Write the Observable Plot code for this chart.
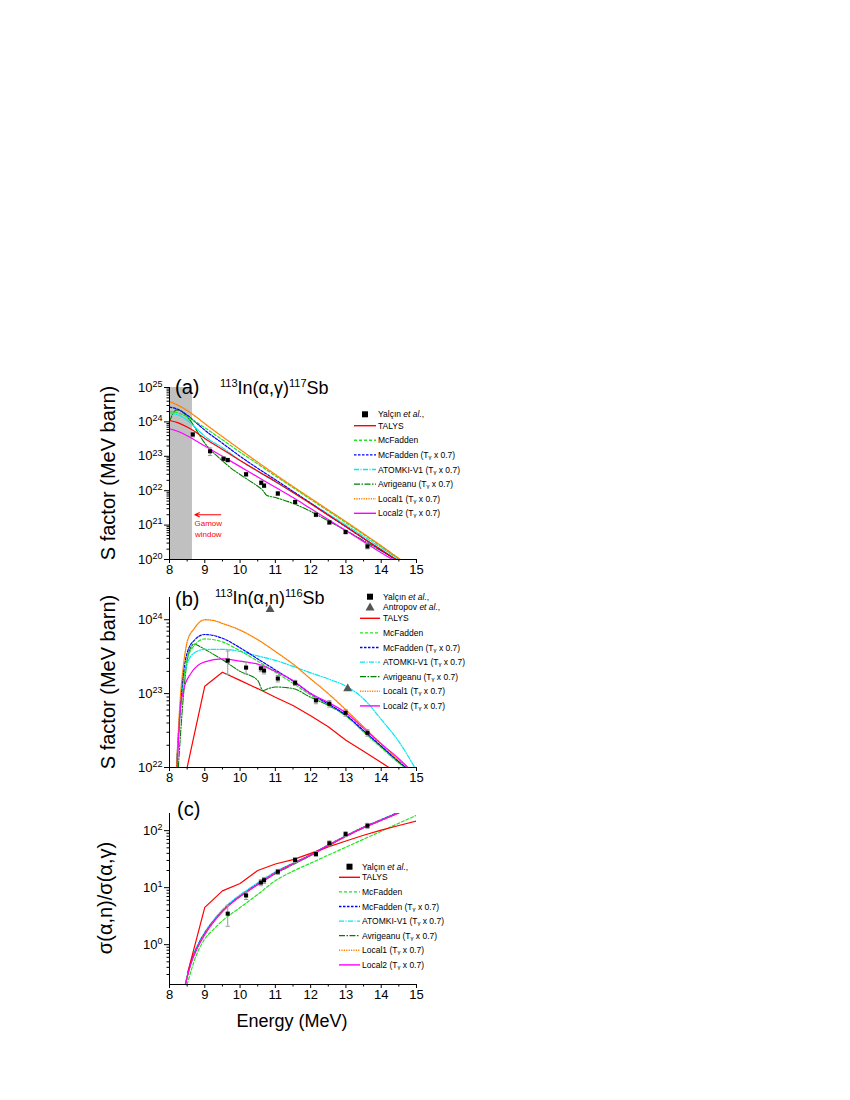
<!DOCTYPE html>
<html><head><meta charset="utf-8">
<script src="https://cdn.jsdelivr.net/npm/d3@7"></script>
<script src="https://cdn.jsdelivr.net/npm/@observablehq/plot@0.6"></script>
<style>
html,body{margin:0;padding:0;background:#fff;}
#page{position:relative;width:850px;height:1100px;overflow:hidden;font-family:"Liberation Sans",Arial,sans-serif;}
.panel{position:absolute;left:0;}
#overlay{position:absolute;left:0;top:0;}
</style></head><body><div id="page"></div>
<script>
// ================= DATA =================
const energyTicks = [8, 9, 10, 11, 12, 13, 14, 15];
const energyMinor = [8.5, 9.5, 10.5, 11.5, 12.5, 13.5, 14.5];
const gamowWindow = [8, 8.65];
const gamowArrow = {from: 9.45, to: 8.72, y: 2.0e21};
const gamowLabel = [{x: 9.1, y: 1.1e21, text: "Gamow"}, {x: 9.1, y: 5.5e20, text: "window"}];

// ---- panel (a): 113In(a,g)117Sb, S factor ----
const eA = [8, 8.25, 8.5, 8.75, 9, 9.5, 10, 10.5, 11, 11.5, 12, 12.5, 13, 13.5, 14, 14.5, 14.75];
const aLocal1 = [3.89e24, 3.02e24, 2.14e24, 1.41e24, 8.91e23, 3.72e23, 1.58e23, 6.76e22, 2.95e22, 1.32e22, 6.03e21, 2.75e21, 1.26e21, 5.62e20, 2.51e20, 1.07e20, 7.08e19];
const aMcF = [2.0e24, 1.82e24, 1.41e24, 1.0e24, 6.76e23, 3.02e23, 1.32e23, 6.03e22, 2.69e22, 1.23e22, 5.62e21, 2.57e21, 1.17e21, 5.37e20, 2.4e20, 1.05e20, 6.92e19];
const aMcF7 = [2.69e24, 2.29e24, 1.58e24, 9.55e23, 5.75e23, 2.4e23, 1.0e23, 4.47e22, 2.09e22, 9.55e21, 4.37e21, 1.95e21, 8.91e20, 4.07e20, 1.86e20, 8.51e19, 5.62e19];
const aAtomki = [1.78e24, 1.58e24, 1.12e24, 6.61e23, 3.8e23, 1.78e23, 7.59e22, 3.63e22, 1.82e22, 8.91e21, 4.37e21, 2.09e21, 1.0e21, 4.68e20, 2.19e20, 1.0e20, 6.61e19];
const aTalys = [1.1e24, 9.33e23, 7.08e23, 5.01e23, 3.31e23, 1.58e23, 7.59e22, 3.72e22, 1.86e22, 8.91e21, 4.17e21, 1.95e21, 9.12e20, 4.17e20, 1.91e20, 8.91e19, 6.03e19];
const aLocal2 = [6.31e23, 5.25e23, 3.98e23, 2.82e23, 2.0e23, 1.0e23, 5.01e22, 2.51e22, 1.26e22, 6.31e21, 3.02e21, 1.45e21, 6.92e20, 3.31e20, 1.58e20, 7.59e19, 5.01e19];
const eAvrA = [8, 8.1, 8.2, 8.35, 8.5, 8.65, 8.8, 9, 9.25, 9.5, 9.75, 10, 10.25, 10.5, 10.65, 10.75, 11, 11.5, 12, 12.5, 13, 13.5, 14, 14.5, 14.75];
const aAvr = [1.02e24, 1.78e24, 2.24e24, 2.0e24, 1.41e24, 8.91e23, 5.01e23, 2.4e23, 1.26e23, 7.41e22, 4.47e22, 2.95e22, 2.0e22, 1.35e22, 1.0e22, 7.41e21, 6.31e21, 4.27e21, 2.51e21, 1.32e21, 6.92e20, 3.55e20, 1.78e20, 9.12e19, 6.31e19];
const expA_E = [8.66, 9.15, 9.53, 9.65, 10.17, 10.6, 10.68, 11.07, 11.56, 12.15, 12.53, 12.99, 13.61];
const expA_S = [4.3e23, 1.4e23, 8.5e22, 7.8e22, 3.0e22, 1.7e22, 1.4e22, 8.3e21, 4.7e21, 2.0e21, 1.2e21, 6.3e20, 2.4e20];
const expA_err = [0.15, 0.25, 0.12, 0.12, 0.12, 0.12, 0.12, 0.12, 0.12, 0.12, 0.12, 0.12, 0.15];

// ---- panel (b): 113In(a,n)116Sb, S factor ----
const eB = [8.2, 8.3, 8.4, 8.5, 8.7, 9, 9.5, 10, 10.5, 11, 11.5, 12, 12.5, 13, 13.5, 14, 14.5, 14.75];
const bMcF7 = [1.0e22, 6.31e22, 2.0e23, 3.55e23, 5.25e23, 6.31e23, 5.62e23, 4.17e23, 2.95e23, 2.09e23, 1.48e23, 1.0e23, 7.24e22, 5.13e22, 3.16e22, 1.95e22, 1.2e22, 9.55e21];
const bMcF = [1.0e22, 5.01e22, 1.58e23, 2.82e23, 4.47e23, 5.5e23, 5.01e23, 3.8e23, 2.75e23, 1.95e23, 1.38e23, 9.55e22, 7.08e22, 5.01e22, 3.02e22, 1.86e22, 1.15e22, 9.33e21];
const eLocal1B = [8.2, 8.3, 8.4, 8.5, 8.7, 9, 9.25, 9.5, 10, 10.5, 11, 11.5, 12, 12.5, 13, 13.5, 14, 14.5, 14.8];
const bLocal1 = [1.0e22, 7.94e22, 2.51e23, 5.01e23, 7.59e23, 1.0e24, 9.77e23, 8.91e23, 7.24e23, 5.37e23, 3.72e23, 2.51e23, 1.58e23, 1.0e23, 6.03e22, 3.55e22, 2.09e22, 1.26e22, 9.55e21];
const eAtomkiB = [8.2, 8.3, 8.4, 8.5, 8.7, 9, 9.5, 10, 10.5, 11, 11.5, 12, 12.5, 13, 13.5, 14, 14.5, 14.95];
const bAtomki = [1.0e22, 5.62e22, 1.58e23, 2.51e23, 3.55e23, 3.98e23, 3.98e23, 3.72e23, 3.24e23, 2.82e23, 2.34e23, 1.91e23, 1.58e23, 1.26e23, 8.51e22, 4.47e22, 2.24e22, 1.0e22];
const eLocal2B = [8.22, 8.3, 8.4, 8.6, 8.8, 9, 9.5, 10, 10.5, 11, 11.5, 12, 12.5, 13, 13.5, 14, 14.5, 14.8];
const bLocal2 = [1.0e22, 5.62e22, 1.12e23, 1.86e23, 2.4e23, 2.69e23, 2.95e23, 2.75e23, 2.51e23, 2.0e23, 1.51e23, 1.0e23, 7.59e22, 5.5e22, 3.39e22, 2.09e22, 1.32e22, 9.55e21];
const eAvrB = [8.25, 8.4, 8.5, 8.6, 8.7, 8.85, 9, 9.5, 10, 10.5, 10.65, 10.8, 11, 11.5, 12, 12.5, 13, 13.5, 14, 14.5, 14.75];
const bAvr = [1.0e22, 1.0e23, 2.82e23, 4.17e23, 4.68e23, 4.37e23, 3.98e23, 2.88e23, 2.0e23, 1.51e23, 1.1e23, 1.17e23, 1.23e23, 1.17e23, 8.91e22, 6.92e22, 5.01e22, 3.09e22, 1.91e22, 1.17e22, 9.55e21];
const eTalysB = [8.5, 9, 9.5, 10, 10.5, 11, 11.5, 12, 12.5, 13, 13.5, 14, 14.25];
const bTalys = [1.0e22, 1.26e23, 1.95e23, 1.51e23, 1.17e23, 8.91e22, 6.92e22, 5.01e22, 3.55e22, 2.34e22, 1.66e22, 1.17e22, 9.77e21];
const expB_E = [9.65, 10.17, 10.59, 10.68, 11.07, 11.56, 12.15, 12.53, 12.99, 13.61];
const expB_S = [2.8e23, 2.25e23, 2.2e23, 2.05e23, 1.6e23, 1.4e23, 8.1e22, 7.3e22, 5.5e22, 2.95e22];
const expB_err = [0.35, 0.18, 0.1, 0.1, 0.1, 0.08, 0.1, 0.1, 0.1, 0.1];
const antropovE = [10.85, 13.05];
const antropovS = [1.38e24, 1.17e23];

// ---- panel (c): cross-section ratio sigma(a,n)/sigma(a,g) ----
const eTalysC = [8.52, 9, 9.5, 10, 10.5, 11, 11.5, 12, 12.5, 13, 13.5, 14, 14.5, 15];
const cTalys = [0.33, 4.5, 8.8, 11.8, 20, 26, 31, 40, 52, 66, 83, 102, 123, 148];
const eMcFC = [8.5, 8.75, 9, 9.25, 9.5, 10, 10.5, 11, 11.5, 12, 12.5, 13, 13.5, 14, 14.5, 15];
const cMcF = [0.2, 0.63, 1.26, 1.86, 2.63, 4.47, 7.6, 13.2, 19.5, 26.9, 37.2, 51.3, 70.8, 97.7, 135, 186];
const eC = [8.45, 8.6, 8.8, 9, 9.25, 9.5, 9.75, 10, 10.25, 10.5, 10.75, 11, 11.5, 12, 12.5, 13, 13.5, 14, 14.5];
const cLocal2 = [0.2, 0.45, 0.9, 1.5, 2.5, 3.8, 5.3, 7.0, 8.9, 11.3, 14.3, 18, 26, 37, 55, 80, 113, 152, 205];
const cMcF7 = [0.2, 0.47, 0.95, 1.6, 2.6, 3.9, 5.4, 7.1, 9.1, 11.6, 14.6, 18.3, 26.5, 37.5, 56, 81, 115, 155, 210];
const cAtomki = [0.21, 0.5, 1.0, 1.65, 2.7, 4.1, 5.7, 7.5, 9.6, 12.2, 15.3, 19, 27, 38, 56, 82, 116, 157, 212];
const cLocal1 = [0.2, 0.46, 0.92, 1.55, 2.55, 3.85, 5.35, 7.05, 9.0, 11.4, 14.4, 18.1, 26.2, 37.2, 55.5, 80.5, 114, 153, 207];
const cAvr = [0.2, 0.46, 0.93, 1.56, 2.55, 3.85, 5.35, 7.05, 9.0, 11.5, 14.2, 17.5, 25.5, 36.5, 54, 79, 112, 151, 204];
const expC_E = [9.65, 10.17, 10.59, 10.68, 11.07, 11.56, 12.15, 12.53, 12.99, 13.61];
const expC_R = [3.5, 7.3, 12.3, 13.5, 19, 30.6, 39, 60, 87, 122];
const expC_err = [0.4, 0.15, 0.12, 0.12, 0.1, 0.1, 0.1, 0.1, 0.1, 0.1];

// legend labels
const legendNames = ["TALYS", "McFadden", "McFadden (T|γ| x 0.7)", "ATOMKI-V1 (T|γ| x 0.7)", "Avrigeanu (T|γ| x 0.7)", "Local1 (T|γ| x 0.7)", "Local2 (T|γ| x 0.7)"];

// ================= STYLES =================
const FONT = '"Liberation Sans", Arial, Helvetica, sans-serif';
const ST = {
  talys:  {stroke: "#ff0000", dash: null, width: 1.2},
  mcf:    {stroke: "#1fe61f", dash: "3,2", width: 1.2},
  mcf7:   {stroke: "#0000ff", dash: "2.5,1.5", width: 1.2},
  atomki: {stroke: "#00e8f0", dash: "5,1.5,1,1.5", width: 1.2},
  avr:    {stroke: "#008000", dash: "6,1.5,1.5,1.5", width: 1.1},
  local1: {stroke: "#ff8000", dash: "1.2,1.2", width: 1.3},
  local2: {stroke: "#ff00ff", dash: null, width: 1.2}
};
const legendStyles = [ST.talys, ST.mcf, ST.mcf7, ST.atomki, ST.avr, ST.local1, ST.local2];

const pts = (xs, ys) => xs.map((x, i) => ({x, y: ys[i]}));
function curve(xs, ys, st, c = "monotone-x") {
  return Plot.line(pts(xs, ys), {x: "x", y: "y", stroke: st.stroke, strokeWidth: st.width,
    strokeDasharray: st.dash || undefined, curve: c, clip: true});
}
function expMarks(xs, ys, errs) {
  const d = xs.map((x, i) => ({x, y: ys[i], lo: ys[i] * (1 - errs[i]), hi: ys[i] * (1 + errs[i])}));
  return [
    Plot.ruleX(d, {x: "x", y1: "lo", y2: "hi", stroke: "#9a9a9a", strokeWidth: 1, clip: true}),
    Plot.link(d, {x1: v => v.x - 0.06, x2: v => v.x + 0.06, y1: "lo", y2: "lo", stroke: "#9a9a9a", clip: true}),
    Plot.link(d, {x1: v => v.x - 0.06, x2: v => v.x + 0.06, y1: "hi", y2: "hi", stroke: "#9a9a9a", clip: true}),
    Plot.dot(d, {x: "x", y: "y", symbol: "square", r: 2.3, fill: "#000", stroke: "none"})
  ];
}
function minorsFor(lo, hi) {
  const o = [];
  for (let e = Math.floor(Math.log10(lo)) - 1; e <= Math.ceil(Math.log10(hi)); e++)
    for (let m = 2; m <= 9; m++) { const v = +(m * Math.pow(10, e)).toPrecision(6); if (v > lo * 1.0001 && v < hi * 0.9999) o.push(v); }
  return o;
}

const page = document.getElementById("page");

function panel({top, yDomain, yMajors, marks}) {
  const fig = Plot.plot({
    width: 850, height: 10 + (yDomain.px) + 30,
    marginLeft: 169, marginRight: 434, marginTop: 10, marginBottom: 30,
    style: {fontFamily: FONT, fontSize: "13px", color: "#000", background: "transparent", overflow: "visible"},
    x: {domain: [8, 15]},
    y: {type: "log", domain: yDomain.d},
    marks: [
      ...marks,
      Plot.ruleX([energyTicks[0]], {stroke: "#000", strokeWidth: 1}),
      Plot.ruleY([yDomain.d[0]], {stroke: "#000", strokeWidth: 1}),
      Plot.axisX({ticks: energyTicks, tickSize: 4, tickPadding: 1, tickFormat: d => String(d), label: null, fontSize: 13}),
      Plot.axisX({ticks: energyMinor, tickSize: 2.5, tickFormat: () => "", label: null}),
      Plot.axisY({ticks: yMajors, tickSize: 5, tickPadding: 2, tickFormat: d => "10^" + Math.round(Math.log10(d)), label: null, fontSize: 13}),
      Plot.axisY({ticks: minorsFor(yDomain.d[0], yDomain.d[1]), tickSize: 2.5, tickFormat: () => "", label: null})
    ]
  });
  d3.select(fig).selectAll('g[aria-label="y-axis tick label"] text').each(function () {
    const t = this.textContent;
    if (!t.includes("^")) return;
    const [b, e] = t.split("^");
    const s = d3.select(this);
    s.text(b);
    s.append("tspan").attr("dy", "-0.55em").attr("font-size", "9px").text(e);
  });
  const wrap = document.createElement("div");
  wrap.className = "panel";
  wrap.style.top = top + "px";
  wrap.appendChild(fig);
  page.appendChild(wrap);
}

// ---- panel (a)
const domA = {d: [1e20, 1e25], px: 172};
panel({top: 377, yDomain: domA, yMajors: [1e20, 1e21, 1e22, 1e23, 1e24, 1e25], marks: [
  Plot.rect([gamowWindow], {x1: d => d[0], x2: d => d[1], y1: () => domA.d[0], y2: () => domA.d[1], fill: "#c0c0c0"}),
  curve(eAvrA, aAvr, ST.avr),
  curve(eA, aAtomki, ST.atomki),
  curve(eA, aMcF7, ST.mcf7),
  curve(eA, aMcF, ST.mcf),
  curve(eA, aLocal1, ST.local1),
  curve(eA, aTalys, ST.talys),
  curve(eA, aLocal2, ST.local2),
  ...expMarks(expA_E, expA_S, expA_err),
  Plot.arrow([gamowArrow], {x1: "from", x2: "to", y1: "y", y2: "y", stroke: "#ff0000", strokeWidth: 1.2, headLength: 6, headAngle: 50}),
  Plot.text(gamowLabel, {x: "x", y: "y", text: "text", fill: "#ff0000", fontSize: 8})
]});

// ---- panel (b)
const domB = {d: [1e22, 2e24], px: 170};
panel({top: 587, yDomain: domB, yMajors: [1e22, 1e23, 1e24], marks: [
  curve(eTalysB, bTalys, ST.talys, "linear"),
  curve(eAvrB, bAvr, ST.avr),
  curve(eAtomkiB, bAtomki, ST.atomki),
  curve(eB, bMcF, ST.mcf),
  curve(eB, bMcF7, ST.mcf7),
  curve(eLocal1B, bLocal1, ST.local1),
  curve(eLocal2B, bLocal2, ST.local2),
  ...expMarks(expB_E, expB_S, expB_err),
  Plot.dot(pts(antropovE, antropovS), {x: "x", y: "y", symbol: "triangle", r: 3.3, fill: "#555", stroke: "none"})
]});

// ---- panel (c)
const domC = {d: [0.2, 200], px: 171};
panel({top: 803, yDomain: domC, yMajors: [1, 10, 100], marks: [
  curve(eC, cAvr, ST.avr),
  curve(eC, cAtomki, ST.atomki),
  curve(eC, cMcF7, ST.mcf7),
  curve(eC, cLocal1, ST.local1),
  curve(eMcFC, cMcF, ST.mcf),
  curve(eTalysC, cTalys, ST.talys, "linear"),
  curve(eC, cLocal2, ST.local2),
  ...expMarks(expC_E, expC_R, expC_err)
]});

// ================= OVERLAY TEXT / LEGENDS =================
const ov = d3.select(page).append("svg").attr("id", "overlay").attr("width", 850).attr("height", 1100)
  .style("font-family", FONT).style("pointer-events", "none");

function label(x, y, txt, size) {
  ov.append("text").attr("x", x).attr("y", y).attr("font-size", size).attr("fill", "#000").text(txt);
}
function reaction(x, y, parts) {
  const t = ov.append("text").attr("x", x).attr("y", y).attr("font-size", 18).attr("fill", "#000");
  let shift = 0;
  parts.forEach(p => {
    if (p.sup) { t.append("tspan").attr("dy", -7 - shift).attr("font-size", 11).text(p.t); shift = -7; }
    else { t.append("tspan").attr("dy", -shift).text(p.t); shift = 0; }
  });
}
function yTitle(x, y, txt, size) {
  ov.append("text").attr("transform", `translate(${x},${y}) rotate(-90)`).attr("text-anchor", "middle")
    .attr("font-size", size).attr("fill", "#000").text(txt);
}
label(175, 394, "(a)", 20);
label(175, 606, "(b)", 20);
label(177, 816, "(c)", 20);
reaction(220, 394, [{t: "113", sup: true}, {t: "In(α,γ)"}, {t: "117", sup: true}, {t: "Sb"}]);
reaction(215, 604, [{t: "113", sup: true}, {t: "In(α,n)"}, {t: "116", sup: true}, {t: "Sb"}]);
yTitle(115, 473, "S factor (MeV barn)", 20);
yTitle(115, 682, "S factor (MeV barn)", 20);
yTitle(112, 898, "σ(α,n)/σ(α,γ)", 20);
ov.append("text").attr("x", 292).attr("y", 1027).attr("text-anchor", "middle").attr("font-size", 18).text("Energy (MeV)");

function richText(g, x, y, str, size) {
  const t = g.append("text").attr("x", x).attr("y", y).attr("font-size", size).attr("dominant-baseline", "central").attr("fill", "#000");
  const segs = str.split("|");
  segs.forEach((s, i) => {
    if (i % 2 === 1) t.append("tspan").attr("dy", 2).attr("font-size", size * 0.7).text(s);
    else t.append("tspan").attr("dy", i ? -2 : 0).text(s);
  });
}
function legend({lx1, lx2, tx, yMarks, y0, withAntropov}) {
  const g = ov.append("g");
  const size = 8.5, mx = (lx1 + lx2) / 2;
  // experimental entries
  g.append("rect").attr("x", mx - 3).attr("y", yMarks[0] - 3).attr("width", 6).attr("height", 6).attr("fill", "#000");
  const t = g.append("text").attr("x", tx).attr("y", yMarks[0]).attr("font-size", size).attr("dominant-baseline", "central");
  t.append("tspan").text("Yalçın ");
  t.append("tspan").attr("font-style", "italic").text("et al.");
  t.append("tspan").text(",");
  if (withAntropov) {
    const yy = yMarks[1];
    g.append("path").attr("d", `M${mx},${yy - 4.5}L${mx + 4.5},${yy + 3.5}L${mx - 4.5},${yy + 3.5}Z`).attr("fill", "#555");
    const t2 = g.append("text").attr("x", tx).attr("y", yy).attr("font-size", size).attr("dominant-baseline", "central");
    t2.append("tspan").text("Antropov ");
    t2.append("tspan").attr("font-style", "italic").text("et al.");
    t2.append("tspan").text(",");
  }
  legendNames.forEach((nm, i) => {
    const y = y0 + i * 14.6, st = legendStyles[i];
    g.append("line").attr("x1", lx1).attr("x2", lx2).attr("y1", y).attr("y2", y)
      .attr("stroke", st.stroke).attr("stroke-width", st.width + 0.2).attr("stroke-dasharray", st.dash);
    richText(g, tx, y, nm, size);
  });
}
legend({lx1: 354, lx2: 376, tx: 378, yMarks: [414.3], y0: 425.7});
legend({lx1: 360, lx2: 380, tx: 383, yMarks: [596.7, 607], y0: 618.3, withAntropov: true});
legend({lx1: 339, lx2: 360, tx: 362, yMarks: [866.7], y0: 877.3});
</script></body></html>
